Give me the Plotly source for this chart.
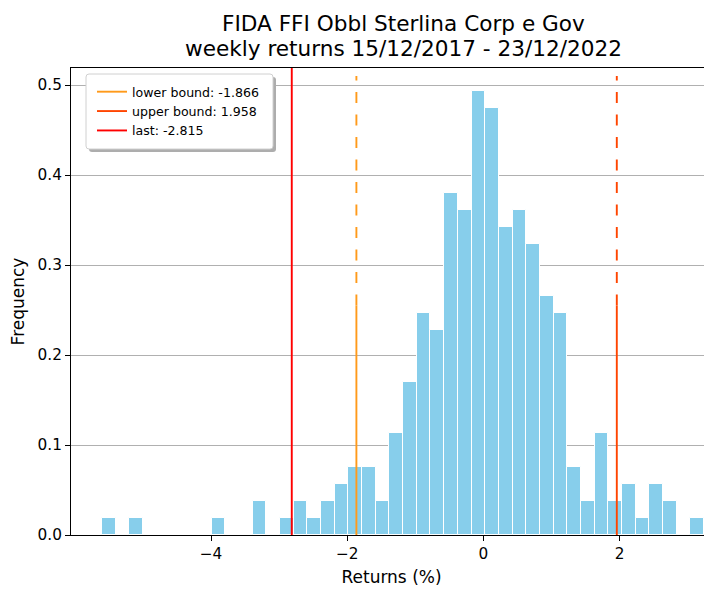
import plotly.graph_objects as go

# ---- data ----
bin_min = -5.60
bin_width = 0.2009
frequencies = [0.019, 0, 0.019, 0, 0, 0, 0, 0, 0.019, 0, 0, 0.038, 0, 0.019,
               0.038, 0.019, 0.038, 0.057, 0.076, 0.076, 0.038, 0.113, 0.17,
               0.247, 0.228, 0.38, 0.361, 0.494, 0.475, 0.342, 0.361, 0.323,
               0.266, 0.247, 0.076, 0.038, 0.113, 0.038, 0.057, 0.019, 0.057,
               0.038, 0, 0.019]
lower_bound = -1.866
upper_bound = 1.958
last_value = -2.815
x_ticks = [-4, -2, 0, 2]
y_ticks = [0.0, 0.1, 0.2, 0.3, 0.4, 0.5]
title_lines = ["FIDA FFI Obbl Sterlina Corp e Gov",
               "weekly returns 15/12/2017 - 23/12/2022"]

bin_centers = [bin_min + (i + 0.5) * bin_width for i in range(len(frequencies))]

FONT = "DejaVu Sans"
solid_top = 0.255
dash_top = 0.51
y_top = 0.519

fig = go.Figure()
fig.add_trace(go.Bar(x=bin_centers, y=frequencies, width=bin_width,
                     marker=dict(color="#87CEEB", line=dict(color="white", width=1)),
                     showlegend=False, hoverinfo="x+y"))

def vline(x, color, name):
    fig.add_trace(go.Scatter(x=[x, x], y=[0, solid_top], mode="lines",
                             line=dict(color=color, width=1.9), name=name))
    fig.add_trace(go.Scatter(x=[x, x], y=[solid_top, dash_top], mode="lines",
                             line=dict(color=color, width=1.9, dash="11px,11.5px"),
                             showlegend=False))

vline(lower_bound, "#FF9A1A", f"lower bound: {lower_bound}")
vline(upper_bound, "#FF4500", f"upper bound: {upper_bound}")
fig.add_trace(go.Scatter(x=[last_value, last_value], y=[0, y_top], mode="lines",
                         line=dict(color="#FF0000", width=1.9),
                         name=f"last: {last_value}"))

# page has an 8px body margin: figure coords = page coords - 8
W, H = 704, 582
L, T, B = 63, 60, 55
pw, ph = W - L, H - T - B

def px2x(p): return (p - L) / pw
def py2y(p): return 1 - (p - T) / ph

def rounded_rect(x0, y0, x1, y1, r):
    X = px2x; Y = py2y
    return (f"M {X(x0 + r)} {Y(y0)} L {X(x1 - r)} {Y(y0)} Q {X(x1)} {Y(y0)} {X(x1)} {Y(y0 + r)} "
            f"L {X(x1)} {Y(y1 - r)} Q {X(x1)} {Y(y1)} {X(x1 - r)} {Y(y1)} "
            f"L {X(x0 + r)} {Y(y1)} Q {X(x0)} {Y(y1)} {X(x0)} {Y(y1 - r)} "
            f"L {X(x0)} {Y(y0 + r)} Q {X(x0)} {Y(y0)} {X(x0 + r)} {Y(y0)} Z")

# legend frame + shadow (matplotlib style)
bx0, by0, bx1, by1 = 78, 66, 265, 141
fig.add_shape(type="path", xref="paper", yref="paper",
              path=rounded_rect(bx0 + 3, by0 + 3, bx1 + 3, by1 + 3, 3),
              fillcolor="#adadad", line=dict(width=0), layer="above")
fig.add_shape(type="path", xref="paper", yref="paper",
              path=rounded_rect(bx0, by0, bx1, by1, 3),
              fillcolor="white", line=dict(color="#d0d0d0", width=1), layer="above")

annotations = [
    dict(text=title_lines[0], x=px2x(395), y=py2y(15.5), xref="paper", yref="paper",
         showarrow=False, xanchor="center", yanchor="middle",
         font=dict(size=21.6, family=FONT)),
    dict(text=title_lines[1], x=px2x(395), y=py2y(40.5), xref="paper", yref="paper",
         showarrow=False, xanchor="center", yanchor="middle",
         font=dict(size=21.6, family=FONT)),
]

fig.update_layout(
    width=W, height=H,
    margin=dict(l=L, r=0, t=T, b=B),
    paper_bgcolor="white", plot_bgcolor="white",
    font=dict(family=FONT, size=15.3, color="#000000"),
    annotations=annotations,
    bargap=0,
    showlegend=True,
    legend=dict(x=px2x(84), y=py2y(69), xanchor="left", yanchor="top",
                bgcolor="rgba(0,0,0,0)", borderwidth=0,
                font=dict(size=12.6, family=FONT), itemwidth=30,
                tracegroupgap=0),
    xaxis=dict(range=[-6.057, 3.356], tickvals=x_ticks, showgrid=False,
               zeroline=False, showline=True, linecolor="black", linewidth=1,
               mirror=True, ticks="outside", ticklen=5, tickcolor="black",
               title=dict(text="Returns (%)", standoff=8, font=dict(size=17))),
    yaxis=dict(range=[0, y_top], tickvals=y_ticks, tickformat=".1f",
               showgrid=True, gridcolor="#b0b0b0", gridwidth=1,
               zeroline=False, showline=True, linecolor="black", linewidth=1,
               ticks="outside", ticklen=5, tickcolor="black",
               title=dict(text="Frequency", standoff=8, font=dict(size=17))),
)

fig.write_html("out.html")
